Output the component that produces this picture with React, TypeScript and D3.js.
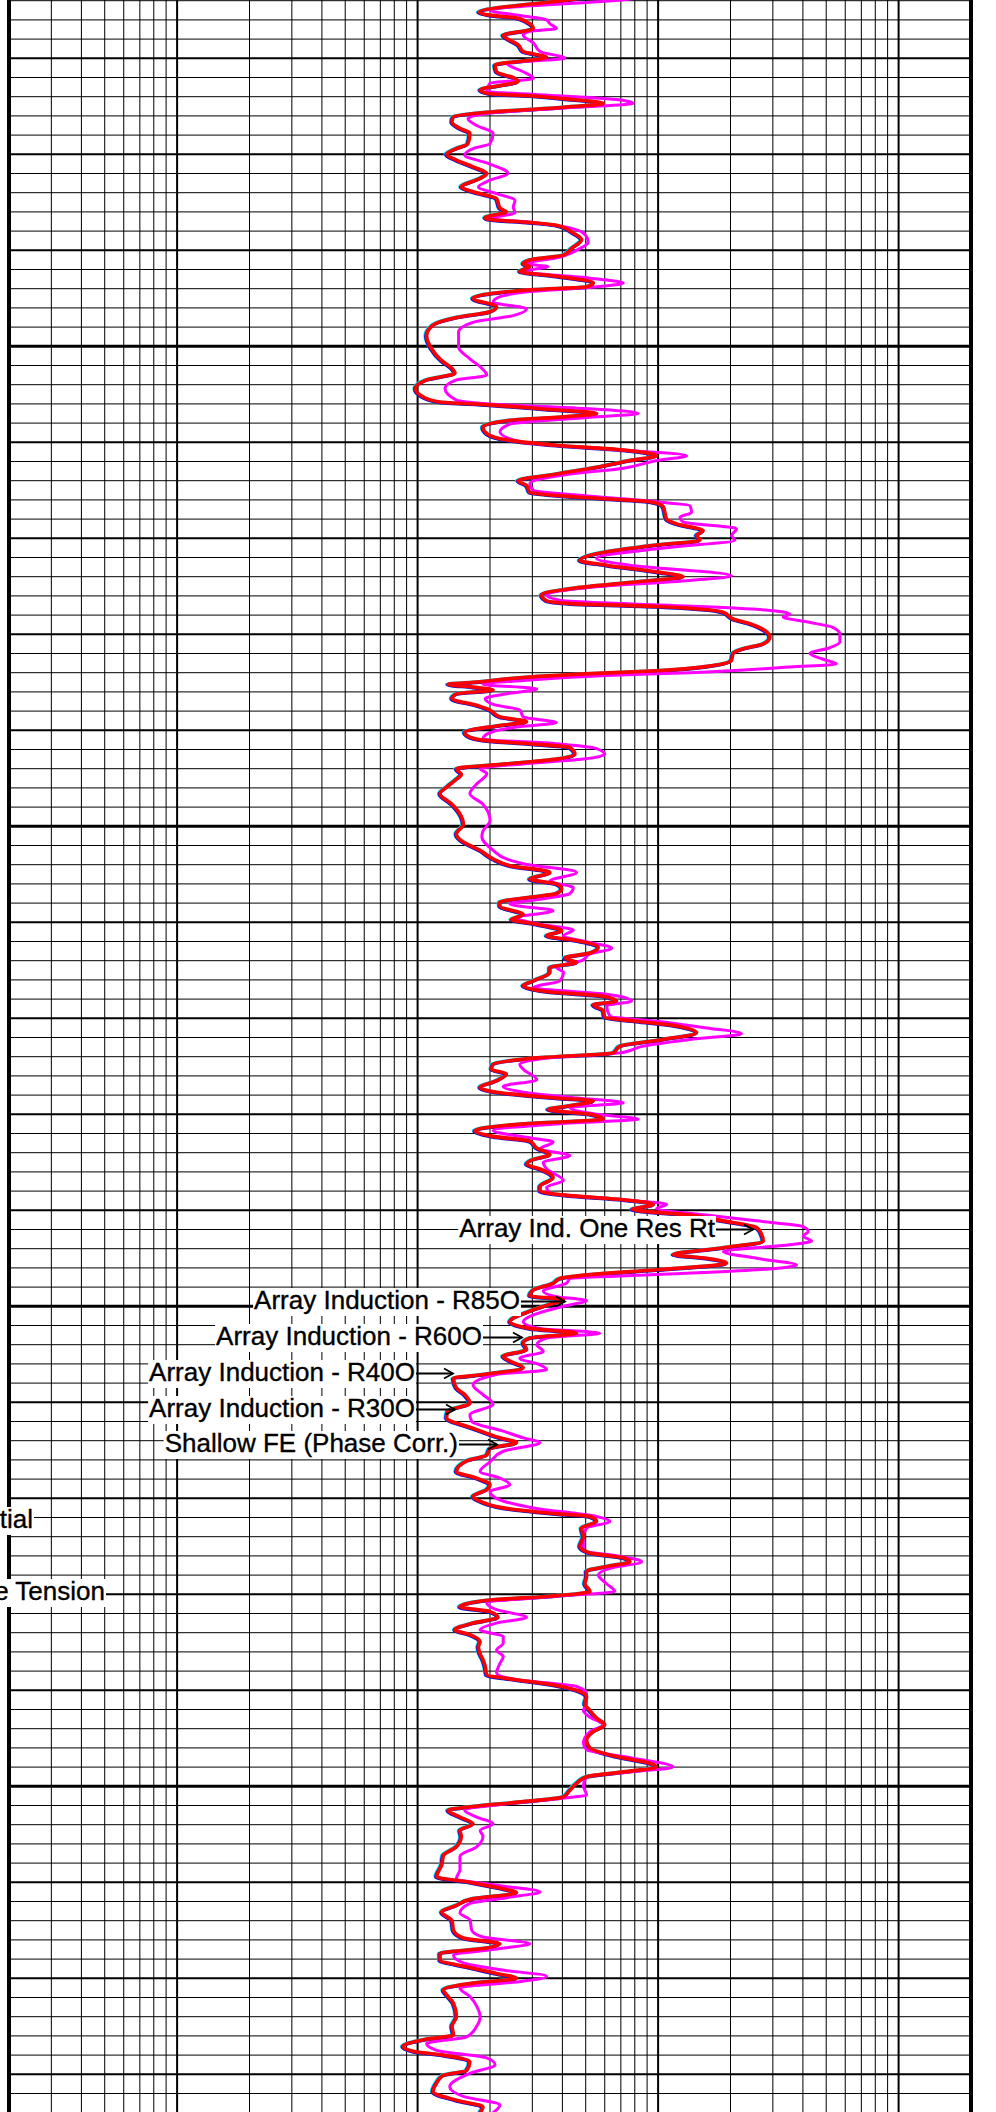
import React from 'react';
import * as d3 from 'd3';

const W = 996;
const H = 2112;

// Resistivity scale (ohm-m), logarithmic, 4 decades
const resDomain = [0.2, 2000];
const decades = [0.1, 1, 10, 100, 1000];
const multipliers = [1, 2, 3, 4, 5, 6, 7, 8, 9];

// Depth scale (ft): grid every 2 ft, heavier every 10 ft, heaviest every 50 ft
const depthTicks = d3.range(962, 1188, 2);

// Red curve (deep): [depth, resistivity]
const deepCurve: [number, number][] = [
  [963.2, 70], [963.9, 43], [965.2, 18.0], [965.5, 20.0], [965.8, 25.8], [966.2, 28.4], [966.9, 30.3], [967.6, 22.7], [967.9, 23.4],
  [968.6, 26.2], [969.3, 27.5], [969.9, 34.4], [970.7, 21.0], [971.4, 21.3], [972.1, 25.4], [972.4, 26.2], [973.3, 18.2],
  [973.7, 20.0], [973.9, 29.3], [974.2, 40.4], [974.7, 59.2], [975.1, 40.4], [975.6, 20.0], [976.1, 14.1], [976.6, 13.9],
  [977.3, 15.0], [977.8, 16.5], [978.9, 16.2], [979.4, 14.5], [980.0, 13.2], [980.6, 14.5], [981.3, 17.0], [982.0, 19.4],
  [982.5, 18.2], [983.4, 15.2], [983.9, 17.0], [984.6, 21.3], [985.6, 22.0], [986.0, 23.4], [986.6, 19.1], [986.8, 20.0],
  [987.1, 29.3], [987.4, 37.8], [988.2, 44.4], [988.9, 48.1], [989.8, 43.7], [990.5, 40.4], [991.0, 29.3], [991.4, 27.5],
  [991.7, 29.3], [992.2, 26.6], [992.7, 37.8], [993.4, 53.8], [993.8, 50.4], [994.1, 30.3], [995.0, 17.0],
  [995.9, 21.3], [996.4, 20.0], [997.0, 14.5], [997.8, 11.6], [998.9, 10.9], [1000.2, 11.4], [1001.5, 12.6], [1002.3, 13.9],
  [1002.8, 14.3], [1003.5, 10.9], [1004.4, 9.8], [1005.3, 10.6], [1005.8, 12.4], [1006.1, 20.0], [1006.5, 32.3], [1007.0, 55.5],
  [1007.4, 37.8], [1007.7, 24.2], [1008.4, 18.7], [1009.1, 19.4], [1009.8, 24.2], [1010.3, 37.8], [1010.8, 71.7], [1011.4, 98.6],
  [1011.9, 76.4], [1012.6, 55.5], [1013.3, 37.8], [1014.0, 26.2], [1014.5, 28.4], [1015.2, 29.3], [1015.7, 45.8], [1016.2, 92.5],
  [1016.7, 105], [1018.0, 108.5], [1018.5, 119.4], [1019.2, 154], [1019.7, 144.6], [1020.2, 149.3], [1020.7, 98.6], [1021.6, 55.5],
  [1022.3, 47.3], [1022.8, 61.1], [1023.5, 98.6], [1024.0, 127.2], [1024.5, 84.0], [1025.2, 44.4], [1025.9, 32.8], [1026.5, 34.4],
  [1026.8, 43.7], [1027.1, 98.6], [1027.7, 186.6], [1028.4, 205], [1028.9, 241], [1029.6, 278], [1030.3, 291.7], [1031.0, 273.7],
  [1031.5, 226], [1032.0, 205], [1032.7, 202], [1033.3, 164.3], [1033.8, 98.6], [1034.1, 52.1], [1034.5, 27.5], [1035.0, 17.0],
  [1035.2, 13.4], [1035.5, 17.0], [1035.8, 20.6], [1036.2, 14.5], [1036.7, 13.9], [1037.4, 17.6], [1037.9, 20.0], [1038.6, 22.0],
  [1039.1, 28.4], [1039.5, 22.0], [1040.2, 15.7], [1040.7, 16.5], [1041.1, 20.0], [1041.4, 29.3], [1041.8, 43.0], [1042.5, 45.1],
  [1043.0, 37.8], [1043.5, 23.4], [1044.0, 14.5], [1044.6, 15.2], [1045.1, 14.5], [1045.8, 13.4], [1046.6, 12.4], [1047.7, 13.9],
  [1048.7, 15.0], [1049.8, 15.5], [1050.8, 14.5], [1051.5, 15.2], [1052.5, 18.2], [1053.4, 20.6], [1054.1, 24.2], [1054.8, 35.5],
  [1055.5, 29.3], [1056.0, 37.8], [1056.5, 39.7], [1057.0, 37.8], [1057.4, 29.3], [1057.9, 22.0],
  [1058.3, 22.0], [1059.2, 27.5], [1059.7, 24.6], [1060.2, 31.3], [1060.9, 39.7], [1061.4, 34.4], [1061.9, 45.8], [1062.6, 56.4],
  [1063.2, 52.1], [1063.7, 41.0], [1064.2, 45.8], [1064.7, 35.5], [1065.2, 35.5], [1066.1, 30.3], [1066.6, 27.5], [1067.2, 34.4],
  [1067.7, 59.2], [1068.2, 67.2], [1068.6, 53.8], [1069.2, 59.2], [1069.9, 60.0], [1070.3, 81.4], [1070.8, 119.4], [1071.5, 144.6],
  [1072.2, 105], [1072.9, 69.4], [1073.6, 65.1], [1074.1, 32.3], [1074.8, 20.6], [1075.3, 20.3], [1075.8, 23.4], [1076.5, 21.3],
  [1077.2, 18.2], [1077.7, 21.3], [1078.3, 37.8], [1078.6, 53.8], [1079.1, 43.0], [1079.5, 34.9], [1080.0, 52.1], [1080.5, 59.2],
  [1081.0, 27.5], [1081.7, 17.3], [1082.3, 20.6], [1082.8, 29.3], [1083.5, 31.3], [1084.2, 35.5], [1084.7, 30.3], [1085.2, 28.4],
  [1085.7, 32.3], [1086.6, 36.6], [1087.5, 32.3], [1088.0, 32.3], [1088.5, 44.4], [1088.9, 71.7], [1089.4, 95.5],
  [1089.9, 78], [1090.5, 135.6], [1091.1, 186.6], [1091.8, 256.8], [1092.5, 269.3], [1093.2, 273.7], [1093.9, 186.6], [1094.6, 115.7],
  [1095.0, 159.1], [1095.5, 192.7], [1096.2, 98.6], [1096.7, 52.1], [1097.1, 39.1], [1097.6, 36.6], [1098.3, 30.3], [1098.9, 29.3],
  [1099.3, 40.4], [1099.8, 35.5], [1100.5, 29.3], [1101.6, 24.2], [1102.3, 29.3], [1102.8, 45.8], [1103.3, 29.3], [1103.8, 27.5],
  [1104.5, 28.4], [1105.2, 22.7], [1105.7, 24.2], [1106.4, 27.5], [1107.1, 18.7], [1107.5, 14.1], [1108.5, 14.5], [1109.2, 15.7],
  [1110.1, 16.5], [1110.9, 13.4], [1111.6, 13.2], [1112.7, 17.0], [1113.7, 22.0], [1114.2, 25.8], [1114.8, 20.0], [1115.5, 19.4],
  [1116.1, 16.0], [1117.2, 14.5], [1117.9, 17.6], [1118.6, 20.0], [1119.1, 19.4], [1119.8, 17.0], [1120.3, 18.2], [1121.0, 22.7],
  [1121.2, 25.8], [1121.6, 37.8], [1121.9, 52.1], [1122.4, 55.5], [1123.1, 48.1], [1124.0, 48.9], [1125.0, 47.3], [1125.7, 52.1],
  [1126.2, 71.7], [1126.6, 76.4], [1127.1, 61.1], [1127.6, 50.4], [1128.2, 50.4], [1128.9, 49.6], [1129.7, 52.1], [1130.2, 35.5],
  [1130.6, 20.0], [1131.3, 15.0], [1131.8, 20.0], [1132.4, 21.6], [1133.0, 17.0], [1133.7, 14.3], [1134.2, 16.5], [1134.9, 18.2],
  [1135.5, 17.9], [1136.2, 18.2], [1136.8, 18.7], [1137.5, 19.1], [1138.4, 19.4], [1138.9, 25.8], [1139.5, 37.8], [1140.0, 45.8],
  [1140.7, 50.4], [1141.4, 49.6], [1142.1, 52.1], [1142.9, 55.5], [1143.6, 60.0], [1144.3, 53.8], [1145.2, 50.4], [1146.0, 52.1],
  [1146.9, 67.2], [1147.6, 92.5], [1148.0, 98.6], [1148.5, 71.7], [1149.0, 50.4], [1149.7, 45.8], [1150.4, 43.0], [1151.1, 40.4],
  [1151.6, 27.5], [1152.1, 17.0],
  [1152.5, 13.4], [1153.2, 15.0], [1153.9, 17.0], [1154.6, 15.0], [1155.2, 15.2], [1156.3, 14.5], [1157.2, 12.8], [1158.2, 12.6],
  [1159.4, 12.0], [1160.0, 16.5], [1160.6, 22.0], [1161.1, 25.8], [1161.7, 17.0], [1162.4, 14.5], [1163.1, 12.6], [1164.0, 13.9],
  [1165.0, 14.1], [1165.8, 15.5], [1166.4, 22.0], [1166.9, 18.7], [1167.4, 12.4], [1168.1, 12.4], [1168.8, 16.0], [1169.5, 21.3],
  [1170.0, 25.8], [1170.5, 17.0], [1171.2, 12.8], [1171.9, 13.4], [1172.6, 14.1], [1174.0, 14.5], [1175.0, 13.9], [1175.9, 14.1],
  [1176.4, 10.6], [1177.1, 8.7], [1177.6, 9.6], [1178.0, 12.8], [1178.7, 16.5], [1179.6, 16.0], [1180.1, 12.8], [1180.9, 12.0],
  [1181.8, 11.6], [1182.7, 14.5], [1183.4, 18.7], [1184.0, 18.2],
];

// Magenta curve (shallow): [depth, resistivity]
const shallowCurve: [number, number][] = [
  [963.2, 110], [963.9, 71.7], [965.0, 20.0], [965.5, 25.8], [966.0, 34.4], [966.4, 35.5], [966.9, 37.8], [967.2, 29.3], [967.6, 27.5],
  [968.4, 30.3], [969.3, 32.3], [970.0, 41.0], [970.5, 23.4], [971.4, 27.5], [972.1, 30.3], [972.6, 20.0], [973.4, 19.4],
  [974.0, 45.8], [974.3, 67.2], [974.7, 78.8], [975.1, 45.8], [975.7, 20.0], [976.3, 16.2], [977.0, 17.6], [977.8, 20.6],
  [978.9, 20.0], [979.4, 17.0], [980.1, 15.7], [980.9, 19.4], [982.0, 23.8], [982.7, 20.0], [983.4, 17.9], [984.1, 21.3],
  [984.8, 25.4], [985.5, 25.0], [986.1, 25.4], [986.7, 20.0], [987.1, 30.3], [988.2, 48.9], [989.1, 51.2], [990.0, 45.8],
  [990.7, 39.1], [991.4, 28.4], [991.7, 34.9], [992.2, 27.5], [992.9, 52.1], [993.4, 71.7], [993.8, 55.5], [994.3, 29.3],
  [995.0, 21.3],
  [995.4, 20.6], [996.1, 28.4], [996.8, 25.0], [997.5, 17.0], [998.5, 14.8], [1000.1, 14.8], [1001.3, 16.5], [1002.3, 18.5],
  [1003.0, 19.4], [1003.5, 14.5], [1004.4, 13.0], [1005.6, 14.5], [1006.0, 20.0], [1006.5, 52.1], [1007.0, 82.7], [1007.4, 52.1],
  [1008.1, 24.2], [1008.9, 22.0], [1010.0, 27.5], [1010.7, 61.1], [1011.4, 131.4], [1011.9, 98.6], [1012.7, 71.7], [1013.4, 40.4],
  [1014.3, 29.3], [1015.0, 30.3], [1015.5, 45.8], [1016.2, 98.6], [1016.6, 135.6], [1017.3, 137.7], [1017.8, 123.3], [1018.3, 127.2],
  [1019.0, 212], [1019.7, 202], [1020.2, 208.7], [1020.9, 115.7], [1022.1, 55.5], [1022.8, 76.4], [1023.9, 202], [1024.4, 135.6],
  [1025.1, 52.1], [1025.9, 34.4], [1026.5, 40.4],
  [1026.8, 71.7], [1027.4, 256.8], [1027.9, 353.4], [1028.2, 331.5], [1028.7, 414.5], [1029.3, 535], [1030.0, 570], [1030.8, 570],
  [1031.4, 518], [1032.0, 428], [1032.6, 486], [1033.1, 552], [1033.4, 353], [1034.0, 135.6], [1034.3, 61.1], [1034.8, 27.5],
  [1035.2, 18.7], [1035.7, 31.3], [1036.2, 23.4], [1036.7, 19.1], [1037.3, 20.6], [1037.9, 26.6], [1038.6, 27.5], [1039.2, 37.8],
  [1039.7, 25.0], [1040.4, 19.4], [1040.9, 18.7], [1041.4, 37.8], [1041.9, 55.5], [1042.5, 60.0], [1043.0, 48.9], [1043.5, 27.5],
  [1044.0, 18.2], [1044.5, 19.4], [1045.6, 17.6], [1046.6, 16.5], [1047.7, 18.7], [1049.4, 20.0], [1050.5, 18.7], [1051.1, 18.5],
  [1052.5, 20.6], [1053.4, 23.4], [1053.9, 27.5], [1054.8, 45.8], [1055.7, 35.5], [1056.4, 44.4], [1057.0, 43.0], [1057.6, 32.3],
  [1058.1, 24.2],
  [1058.8, 36.6], [1059.5, 25.8], [1060.2, 32.3], [1060.8, 44.4], [1061.4, 40.4], [1062.1, 52.1], [1062.7, 64.1], [1063.3, 52.1],
  [1064.0, 48.1], [1064.7, 37.8], [1065.2, 40.4], [1066.1, 39.1], [1066.8, 30.3], [1067.5, 61.1], [1068.2, 77.6], [1068.7, 61.1],
  [1069.8, 63.1], [1070.3, 98.6], [1071.0, 159.1], [1071.6, 222.4], [1072.2, 135.6], [1072.9, 86.8], [1073.6, 69.4], [1074.1, 35.5],
  [1074.8, 26.6], [1075.3, 27.5], [1076.4, 31.3], [1077.1, 22.7], [1077.7, 27.5], [1078.3, 45.8], [1078.8, 71.7], [1079.3, 43.0],
  [1080.0, 55.5], [1080.5, 82.7], [1081.0, 37.8], [1081.7, 20.6], [1082.4, 28.4], [1082.9, 36.6], [1083.6, 32.3], [1084.3, 43.0],
  [1085.0, 33.3], [1085.7, 34.4], [1086.9, 40.4], [1087.6, 34.4], [1088.2, 35.5], [1088.9, 71.7], [1089.4, 108.5],
  [1089.8, 98.6], [1090.5, 159], [1091.1, 256.8], [1091.7, 401], [1092.2, 421], [1092.7, 401], [1093.2, 435], [1093.6, 353],
  [1094.3, 186.6], [1095.0, 256.8], [1095.7, 376.7], [1096.2, 256.8], [1096.7, 98.6], [1097.1, 43.0], [1097.6, 41.6], [1098.4, 33.3],
  [1099.0, 37.8], [1099.4, 50.4], [1100.0, 40.4], [1100.9, 30.3], [1101.6, 27.5], [1102.3, 32.3], [1102.8, 57.3], [1103.3, 34.4],
  [1104.0, 31.3], [1104.7, 33.3], [1105.4, 26.6], [1106.1, 32.3], [1106.6, 34.4], [1107.1, 21.3], [1108.2, 17.0], [1109.2, 18.7],
  [1110.2, 20.6], [1111.3, 16.5], [1112.0, 16.8], [1113.0, 22.7], [1113.7, 27.5], [1114.2, 32.3], [1115.1, 22.7], [1116.2, 20.0],
  [1117.2, 18.2], [1117.9, 22.0], [1118.6, 24.2], [1119.3, 20.0], [1120.0, 21.3], [1121.0, 30.3],
  [1121.9, 55.5], [1122.4, 63.1], [1123.1, 50.4], [1124.0, 48.9], [1125.4, 48.9], [1126.1, 71.7], [1126.6, 85.4], [1127.3, 63.1],
  [1128.0, 56.4], [1128.9, 61.1], [1129.7, 66.1], [1130.2, 37.8], [1130.9, 19.4], [1131.6, 21.3], [1132.4, 28.4], [1133.0, 21.3],
  [1133.7, 18.2], [1134.4, 22.7], [1135.1, 22.7], [1135.8, 21.3], [1136.5, 22.7], [1137.2, 22.0], [1138.2, 21.3], [1138.9, 25.8],
  [1139.6, 45.8], [1140.3, 50.4], [1141.4, 50.4], [1142.1, 48.9], [1142.8, 52.1], [1143.6, 59.2], [1144.3, 52.1], [1145.5, 48.9],
  [1146.2, 50.4], [1146.9, 71.7], [1148.0, 115.7], [1148.5, 76.4], [1149.0, 50.4], [1150.0, 48.9], [1150.9, 50.4], [1151.3, 37.8],
  [1151.8, 24.2], [1152.5, 15.7],
  [1153.2, 17.6], [1153.9, 20.6], [1154.6, 18.2], [1155.2, 18.7], [1156.3, 17.6], [1157.3, 15.0], [1158.7, 15.0], [1159.6, 14.5],
  [1160.3, 21.3], [1161.0, 32.3], [1161.6, 23.4], [1162.2, 16.5], [1163.2, 15.0], [1163.9, 16.5], [1165.0, 16.8], [1165.7, 18.7],
  [1166.4, 29.3], [1166.9, 22.0], [1167.6, 14.1], [1168.4, 15.5], [1169.1, 22.0], [1169.8, 34.4], [1170.3, 27.5], [1171.0, 15.0],
  [1171.9, 16.5], [1172.9, 17.6], [1174.0, 18.2], [1175.0, 17.6], [1176.1, 16.0], [1176.8, 10.9], [1177.5, 12.0], [1178.3, 19.4],
  [1179.0, 21.0], [1179.9, 16.5], [1181.3, 13.6], [1182.3, 15.5], [1183.2, 22.0], [1184.0, 20.6],
];

// Curve labels
const labelTexts = [
  'Array Ind. One Res Rt',
  'Array Induction - R85O',
  'Array Induction - R60O',
  'Array Induction - R40O',
  'Array Induction - R30O',
  'Shallow FE (Phase Corr.)',
  'Spontaneous Potential',
  'Cable Tension',
];
const labelLayout = [
  { xEnd: 715, base: 1237, arrow: 38 },
  { xEnd: 520, base: 1309, arrow: 45 },
  { xEnd: 482, base: 1345, arrow: 40 },
  { xEnd: 415, base: 1381, arrow: 38 },
  { xEnd: 415, base: 1417, arrow: 40 },
  { xEnd: 458, base: 1452, arrow: 39 },
  { xEnd: 33, base: 1528, arrow: 0 },
  { xEnd: 105, base: 1600, arrow: 0 },
];

const FONT = "'Liberation Sans', Arial, Helvetica, sans-serif";
const FS = 26;

function measure(text: string): number {
  const c = document.createElement('canvas').getContext('2d');
  if (!c) return text.length * FS * 0.5;
  c.font = `${FS}px ${FONT}`;
  return c.measureText(text).width;
}

export default function App() {
  const x = d3.scaleLog().domain(resDomain).range([9, 971]);
  const y = d3.scaleLinear().domain([1000, 1050]).range([346.3, 826.3]);

  const vLines: { v: number; w: number }[] = [];
  decades.forEach((b) => {
    multipliers.forEach((m) => {
      const v = +(b * m).toPrecision(3);
      if (v > resDomain[0] * 1.0001 && v < resDomain[1] * 0.9999) {
        vLines.push({ v, w: m === 1 ? 2 : 1 });
      }
    });
  });

  const hLines = depthTicks
    .filter((d) => y(d) > -2 && y(d) < H + 2)
    .map((d) => ({ d, w: d % 50 === 0 ? 3 : d % 10 === 0 ? 2 : 1 }));

  const line = d3
    .line<[number, number]>()
    .x((p) => x(p[1]))
    .y((p) => y(p[0]))
    .curve(d3.curveMonotoneY);

  const deepPath = line(deepCurve) || '';
  const shallowPath = line(shallowCurve) || '';

  return (
    <div style={{ position: 'absolute', left: 0, top: 0, width: W, height: H, background: '#fff' }}>
      <svg width={W} height={H} style={{ display: 'block' }}>
        <rect x={0} y={0} width={W} height={H} fill="#fff" />
        <g>
          {hLines.map((l) => (
            <line key={'h' + l.d} x1={x(resDomain[0])} x2={x(resDomain[1])} y1={y(l.d)} y2={y(l.d)} stroke="#000" strokeWidth={l.w} />
          ))}
          {vLines.map((l) => (
            <line key={'v' + l.v} x1={x(l.v)} x2={x(l.v)} y1={0} y2={H} stroke="#000" strokeWidth={l.w} />
          ))}
          <line x1={x(resDomain[0])} x2={x(resDomain[0])} y1={0} y2={H} stroke="#000" strokeWidth={4} />
          <line x1={x(resDomain[1])} x2={x(resDomain[1])} y1={0} y2={H} stroke="#000" strokeWidth={4} />
        </g>
        <g fill="none" strokeLinejoin="round" strokeLinecap="round">
          <path d={deepPath} stroke="#00e5ee" strokeWidth={3.4} transform="translate(-1.5,0)" />
          <path d={deepPath} stroke="#1010d0" strokeWidth={3.4} transform="translate(-0.8,0.6)" />
          <path d={shallowPath} stroke="#ff00ff" strokeWidth={3} />
          <path d={deepPath} stroke="#ff0000" strokeWidth={3.6} />
        </g>
        <g fontFamily={FONT} fontSize={FS} fill="#000">
          {labelTexts.map((t, i) => {
            const L = labelLayout[i];
            const w = measure(t);
            const ay = L.base - 7.5;
            const tip = L.xEnd + L.arrow;
            return (
              <g key={t}>
                <rect x={L.xEnd - w - 1} y={L.base - 21} width={w + 2} height={28} fill="#fff" />
                <text x={L.xEnd} y={L.base} textAnchor="end" stroke="#000" strokeWidth={0.35}>{t}</text>
                {L.arrow > 0 && (
                  <g stroke="#000" strokeWidth={1.8} fill="none">
                    <line x1={L.xEnd + 1} x2={tip} y1={ay} y2={ay} />
                    <path d={`M${tip - 9},${ay - 5} L${tip},${ay} L${tip - 9},${ay + 5}`} />
                  </g>
                )}
              </g>
            );
          })}
        </g>
      </svg>
    </div>
  );
}
